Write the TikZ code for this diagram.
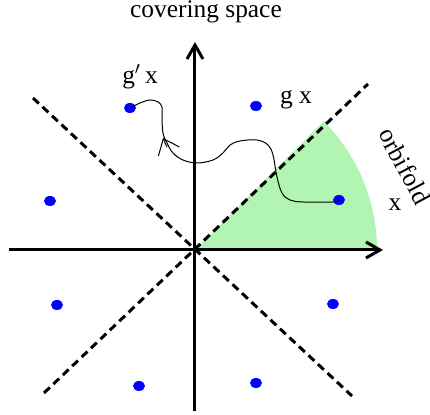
\documentclass[tikz,border=0pt]{standalone}
\usepackage{fontspec}
\setmainfont{Liberation Serif}
\usetikzlibrary{arrows.meta, shapes.geometric}
\definecolor{sectorgreen}{RGB}{178,245,178}
\begin{document}
\begin{tikzpicture}[
        x=0.5pt, y=0.5pt,
        dot/.style={ellipse, fill=blue, inner sep=0pt, minimum width=6pt, minimum height=5pt},
        lbl/.style={font=\fontsize{12.7}{15}\selectfont, inner sep=1pt},
        axis/.style={line width=1.5pt, -{Straight Barb[length=7pt, width=8pt]}},
        mirror/.style={line width=1.5pt, dash pattern=on 4pt off 2.5pt},
        loop/.style={line width=0.5pt}
    ]
\useasboundingbox (-195,-165) rectangle (235,250);

% Fundamental domain
\fill[sectorgreen] (0,0) -- (91pt,0) arc[start angle=0, end angle=45, radius=91pt] -- cycle;

% Axes
\coordinate (W) at (-186,0);
\coordinate (E) at (188,0);
\coordinate (S) at (0,-161);
\coordinate (N) at (0,208);
\draw[axis] (W) -- (E);
\draw[axis] (S) -- (N);

% Mirror lines
\coordinate (NW) at (-162,152);
\coordinate (SE) at (157,-146);
\coordinate (SW) at (-151,-143);
\coordinate (NE) at (173,166);
\draw[mirror] (NW) -- (SE);
\draw[mirror] (SW) -- (NE);

% Orbit of the point
\node[dot] (p1) at (144,50) {};
\node[dot] (p2) at (61,144) {};
\node[dot] (p3) at (-65,142) {};
\node[dot] (p4) at (-145,49) {};
\node[dot] (p5) at (-138,-55) {};
\node[dot] (p6) at (-56,-136) {};
\node[dot] (p7) at (61,-133) {};
\node[dot] (p8) at (138,-54) {};

% Path from x to g'x
\draw[loop] plot[smooth, tension=0.6] coordinates {(p1.center) (138,48) (108,48) (95,50) (87,57) (82,73) (78,95) (73,105) (62,110) (45,109) (35,105) (28,97) (18,90) (2,87) (-12,90) (-22,97) (-28,107) (-32,117) (-33,133) (-33,143) (-37,148) (-45,150) (-55,147) (p3.center)};
\coordinate (tip) at (-32,112);
\draw[loop, -{Straight Barb[length=7pt, width=11.5pt]}] (-28,102.8) -- (tip);

% Labels
\node[lbl] (title) at (11,238) {covering space};
\node[lbl] (lgx) at (101,150) {g x};
\node[lbl] (lgpx) at (-55,173) {g$'\,$x};
\node[lbl] (lx) at (200,45) {x};
\node[lbl, rotate=-62] (lorb) at (210,84) {orbifold};
\end{tikzpicture}
\end{document}
